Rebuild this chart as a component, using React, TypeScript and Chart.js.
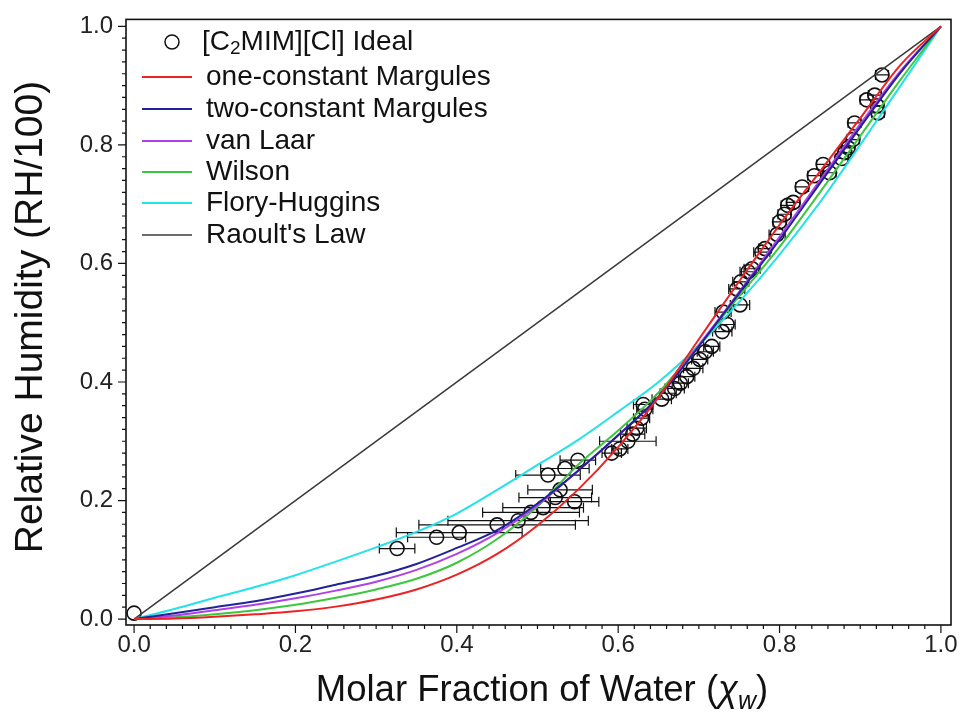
import React, { useEffect, useRef } from 'react';
import { Chart, registerables } from 'chart.js';

Chart.register(...registerables);

// ---------- data ----------
const xTickValues = [0, 0.2, 0.4, 0.6, 0.8, 1.0];
const yTickValues = [0, 0.2, 0.4, 0.6, 0.8, 1.0];

const curveX = [0, 0.05, 0.1, 0.15, 0.2, 0.25, 0.3, 0.35, 0.4, 0.45, 0.5, 0.55, 0.6, 0.65, 0.7, 0.75, 0.8, 0.85, 0.9, 0.95, 1.0];
const oneConstMargules = [0, 0.001, 0.004, 0.008, 0.013, 0.021, 0.033, 0.05, 0.075, 0.11, 0.158, 0.218, 0.29, 0.374, 0.472, 0.57, 0.665, 0.755, 0.845, 0.935, 1.0];
const twoConstMargules = [0, 0.01, 0.02, 0.03, 0.043, 0.058, 0.073, 0.093, 0.12, 0.15, 0.195, 0.25, 0.31, 0.375, 0.46, 0.55, 0.64, 0.735, 0.83, 0.922, 1.0];
const vanLaar = [0, 0.006, 0.015, 0.024, 0.035, 0.048, 0.063, 0.083, 0.11, 0.145, 0.192, 0.25, 0.31, 0.375, 0.462, 0.552, 0.645, 0.74, 0.835, 0.925, 1.0];
const wilson = [0, 0.003, 0.008, 0.015, 0.024, 0.036, 0.05, 0.068, 0.095, 0.135, 0.19, 0.26, 0.318, 0.382, 0.462, 0.545, 0.628, 0.72, 0.815, 0.91, 1.0];
const floryHuggins = [0, 0.017, 0.036, 0.054, 0.074, 0.097, 0.121, 0.147, 0.178, 0.218, 0.26, 0.302, 0.35, 0.4, 0.462, 0.535, 0.615, 0.703, 0.8, 0.9, 1.0];
const raoultX = [0, 1];
const raoultY = [0, 1];

const obsX = [0.000, 0.326, 0.375, 0.403, 0.450, 0.476, 0.492, 0.507, 0.522, 0.528, 0.546, 0.513, 0.534, 0.550,
  0.592, 0.602, 0.612, 0.618, 0.623, 0.629, 0.633, 0.631, 0.654, 0.662, 0.670, 0.677, 0.685, 0.693, 0.701, 0.708,
  0.716, 0.729, 0.735, 0.730, 0.751, 0.747, 0.752, 0.761, 0.766, 0.778, 0.782, 0.797, 0.800, 0.806, 0.810, 0.817,
  0.828, 0.843, 0.854, 0.862, 0.877, 0.881, 0.885, 0.891, 0.893, 0.908, 0.918, 0.921, 0.922, 0.927];
const obsY = [0.010, 0.119, 0.138, 0.146, 0.159, 0.166, 0.180, 0.188, 0.205, 0.218, 0.198, 0.243, 0.254, 0.268,
  0.280, 0.287, 0.300, 0.312, 0.322, 0.339, 0.354, 0.362, 0.371, 0.381, 0.389, 0.398, 0.409, 0.423, 0.438, 0.451,
  0.460, 0.485, 0.497, 0.518, 0.530, 0.557, 0.569, 0.586, 0.591, 0.619, 0.625, 0.649, 0.670, 0.683, 0.698, 0.703,
  0.729, 0.748, 0.767, 0.753, 0.777, 0.787, 0.795, 0.809, 0.837, 0.876, 0.884, 0.866, 0.854, 0.918];
const obsXErr = [0, 0.022, 0.036, 0.078, 0.097, 0.087, 0.060, 0.050, 0.045, 0.040, 0.030, 0.040, 0.030, 0.022,
  0.012, 0.010, 0.035, 0.015, 0.012, 0.010, 0.010, 0.012, 0.012, 0.010, 0.012, 0.010, 0.010, 0.012, 0.010, 0.010,
  0.010, 0.012, 0.010, 0.010, 0.012, 0.010, 0.010, 0.010, 0.010, 0.010, 0.008, 0.010, 0.008, 0.008, 0.008, 0.008,
  0.008, 0.008, 0.008, 0.008, 0.008, 0.008, 0.008, 0.008, 0.008, 0.008, 0.008, 0.008, 0.008, 0.008];

const seriesLabels = ['one-constant Margules', 'two-constant Margules', 'van Laar', 'Wilson', 'Flory-Huggins', "Raoult's Law"];
const seriesColors = ['#ee2222', '#22229a', '#b040e8', '#3cc83c', '#22e2ea', '#3a3a3a'];

const FONT = '"Liberation Sans", Arial, sans-serif';

const pts = (xs: number[], ys: number[]) => xs.map((x, i) => ({ x, y: ys[i] }));

const decorPlugin = {
  id: 'decor',
  beforeDatasetsDraw(chart: any) {
    const { ctx, scales } = chart;
    const xs = scales.x, ys = scales.y;
    ctx.save();
    ctx.strokeStyle = '#111';
    ctx.lineWidth = 1.2;
    obsX.forEach((x, i) => {
      const e = obsXErr[i];
      if (!e) return;
      const py = ys.getPixelForValue(obsY[i]);
      const p1 = xs.getPixelForValue(x - e);
      const p2 = xs.getPixelForValue(x + e);
      ctx.beginPath();
      ctx.moveTo(p1, py); ctx.lineTo(p2, py);
      ctx.moveTo(p1, py - 5); ctx.lineTo(p1, py + 5);
      ctx.moveTo(p2, py - 5); ctx.lineTo(p2, py + 5);
      ctx.stroke();
    });
    ctx.restore();
  },
  afterDraw(chart: any) {
    const { ctx, chartArea, scales } = chart;
    const { left, right, top, bottom } = chartArea;
    const xs = scales.x, ys = scales.y;
    ctx.save();
    // frame
    ctx.strokeStyle = '#111';
    ctx.lineWidth = 1.6;
    ctx.strokeRect(left, top, right - left, bottom - top);
    // ticks
    ctx.lineWidth = 1.2;
    ctx.beginPath();
    for (let i = 0; i <= 50; i++) {
      const v = i / 50;
      const len = i % 10 === 0 ? 8 : 4;
      const px = xs.getPixelForValue(v);
      ctx.moveTo(px, bottom); ctx.lineTo(px, bottom + len);
      const py = ys.getPixelForValue(v);
      ctx.moveTo(left, py); ctx.lineTo(left - len, py);
    }
    ctx.stroke();

    // y title
    ctx.fillStyle = '#111';
    ctx.save();
    ctx.translate(31, 317);
    ctx.rotate(-Math.PI / 2);
    ctx.font = `39px ${FONT}`;
    ctx.textAlign = 'center';
    ctx.textBaseline = 'middle';
    ctx.fillText('Relative Humidity (RH/100)', 0, 0);
    ctx.restore();

    // x title with subscript
    const parts = [
      { t: 'Molar Fraction of Water (', f: `36.5px ${FONT}`, dy: 0 },
      { t: 'χ', f: `italic 36.5px ${FONT}`, dy: 0 },
      { t: 'w', f: `italic 25px ${FONT}`, dy: 8 },
      { t: ')', f: `36.5px ${FONT}`, dy: 0 },
    ];
    let total = 0;
    parts.forEach(p => { ctx.font = p.f; total += ctx.measureText(p.t).width; });
    let cx = 542 - total / 2;
    const base = 701;
    ctx.textAlign = 'left';
    ctx.textBaseline = 'alphabetic';
    parts.forEach(p => { ctx.font = p.f; ctx.fillText(p.t, cx, base + p.dy); cx += ctx.measureText(p.t).width; });

    // legend
    const lx0 = 142, lx1 = 192, tx = 206;
    const rowY = [42, 77, 109, 141, 172, 203, 235];
    ctx.textBaseline = 'middle';
    ctx.lineWidth = 1.5;
    ctx.strokeStyle = '#111';
    ctx.beginPath();
    ctx.arc(172, rowY[0], 7, 0, Math.PI * 2);
    ctx.stroke();
    ctx.fillStyle = '#111';
    let lx = 202;
    ctx.font = `28px ${FONT}`;
    ctx.fillText('[C', lx, rowY[0]); lx += ctx.measureText('[C').width;
    ctx.font = `19px ${FONT}`;
    ctx.fillText('2', lx, rowY[0] + 7); lx += ctx.measureText('2').width;
    ctx.font = `28px ${FONT}`;
    ctx.fillText('MIM][Cl] Ideal', lx, rowY[0]);
    seriesLabels.forEach((lab, i) => {
      const y = rowY[i + 1];
      ctx.strokeStyle = seriesColors[i];
      ctx.lineWidth = i === 5 ? 1.5 : 2;
      ctx.beginPath(); ctx.moveTo(lx0, y); ctx.lineTo(lx1, y); ctx.stroke();
      ctx.fillStyle = '#111';
      ctx.font = `28px ${FONT}`;
      ctx.fillText(lab, tx, y);
    });
    ctx.restore();
  },
};

export default function App() {
  const ref = useRef<HTMLCanvasElement | null>(null);
  useEffect(() => {
    document.body.style.margin = '0';
    const curves = [oneConstMargules, twoConstMargules, vanLaar, wilson, floryHuggins];
    const datasets: any[] = curves.map((ys, i) => ({
      type: 'line',
      label: seriesLabels[i],
      data: pts(curveX, ys),
      borderColor: seriesColors[i],
      borderWidth: 2,
      pointRadius: 0,
      fill: false,
      cubicInterpolationMode: 'monotone',
    }));
    datasets.push({
      type: 'line',
      label: seriesLabels[5],
      data: pts(raoultX, raoultY),
      borderColor: seriesColors[5],
      borderWidth: 1.5,
      pointRadius: 0,
      fill: false,
    });
    datasets.push({
      type: 'scatter',
      label: '[C2MIM][Cl] Ideal',
      data: pts(obsX, obsY),
      pointRadius: 7,
      pointBorderWidth: 1.6,
      borderColor: '#111',
      backgroundColor: 'rgba(0,0,0,0)',
      pointStyle: 'circle',
    });
    const chart = new Chart(ref.current as HTMLCanvasElement, {
      type: 'scatter',
      data: { datasets },
      options: {
        animation: false,
        responsive: true,
        maintainAspectRatio: false,
        layout: { padding: { top: 16, right: 16, left: 0, bottom: 0 } },
        plugins: { legend: { display: false }, tooltip: { enabled: false } },
        scales: {
          x: {
            type: 'linear',
            min: -0.01,
            max: 1.0125,
            afterBuildTicks: (axis: any) => { axis.ticks = xTickValues.map(value => ({ value })); },
            afterFit: (axis: any) => { axis.height = 100; },
            ticks: {
              callback: (v: any) => Number(v).toFixed(1),
              font: { family: FONT, size: 24 },
              color: '#222',
              padding: 0,
              maxRotation: 0,
              autoSkip: false,
            },
            grid: { display: false, drawTicks: true, tickLength: 6 },
            border: { display: false },
          },
          y: {
            type: 'linear',
            min: -0.01,
            max: 1.0117,
            afterBuildTicks: (axis: any) => { axis.ticks = yTickValues.map(value => ({ value })); },
            afterFit: (axis: any) => { axis.width = 126; },
            ticks: {
              callback: (v: any) => Number(v).toFixed(1),
              font: { family: FONT, size: 24 },
              color: '#222',
              padding: 5,
              autoSkip: false,
            },
            grid: { display: false, drawTicks: true, tickLength: 8 },
            border: { display: false },
          },
        },
      },
      plugins: [decorPlugin],
    } as any);
    return () => chart.destroy();
  }, []);
  return (
    <div style={{ width: 967, height: 725, position: 'relative', background: '#fff' }}>
      <canvas ref={ref} />
    </div>
  );
}
